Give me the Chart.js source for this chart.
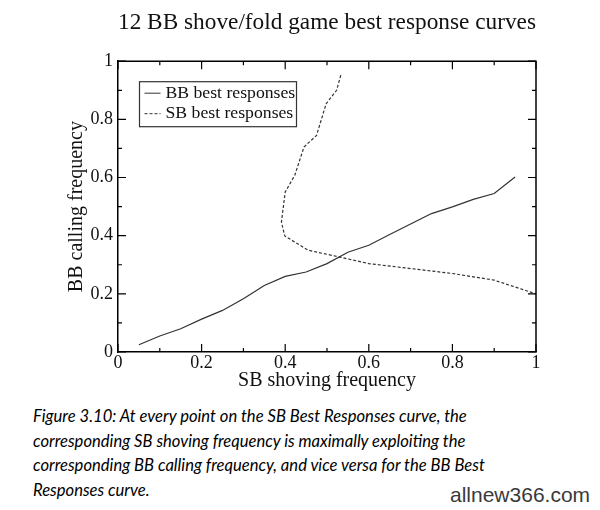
<!DOCTYPE html>
<html>
<head>
<meta charset="utf-8">
<script src="https://cdn.jsdelivr.net/npm/chart.js@4.4.1/dist/chart.umd.min.js"></script>
<style>
  html, body { margin: 0; padding: 0; background: #fff; }
  body { width: 600px; height: 510px; position: relative; overflow: hidden; }
  #wrap { position: absolute; left: 0; top: 0; width: 600px; height: 400px; }
  #caption {
    position: absolute; left: 33px; top: 404px; width: 560px;
    font-family: Lato, "Open Sans", sans-serif; font-style: italic;
    font-size: 16.6px; line-height: 24.5px; color: #000;
  }
  #mark {
    position: absolute; left: 450px; top: 483px;
    font-family: "Liberation Sans", Arial, sans-serif; font-size: 21px; color: #3a3a3a;
  }
</style>
</head>
<body>
<div id="wrap"><canvas id="chart"></canvas></div>
<div id="caption">Figure 3.10: At every point on the SB Best Responses curve, the<br>corresponding SB shoving frequency is maximally exploiting the<br>corresponding BB calling frequency, and vice versa for the BB Best<br>Responses curve.</div>
<div id="mark">allnew366.com</div>
<script>
// BB best responses (solid)
const bbX = [0.05, 0.10, 0.15, 0.20, 0.25, 0.30, 0.35, 0.40, 0.45, 0.50, 0.55, 0.60, 0.65, 0.70, 0.75, 0.80, 0.85, 0.90, 0.95];
const bbY = [0.025, 0.055, 0.080, 0.113, 0.143, 0.183, 0.229, 0.260, 0.275, 0.304, 0.343, 0.367, 0.404, 0.440, 0.476, 0.499, 0.525, 0.545, 0.602];

// SB best responses (dashed)
const sbX = [0.533, 0.523, 0.498, 0.475, 0.445, 0.423, 0.400, 0.391, 0.399, 0.455, 0.535, 0.600, 0.700, 0.800, 0.900, 1.000];
const sbY = [0.952, 0.900, 0.854, 0.745, 0.705, 0.608, 0.550, 0.447, 0.399, 0.350, 0.325, 0.304, 0.287, 0.270, 0.247, 0.200];

const xTickLabels = ['0', '0.2', '0.4', '0.6', '0.8', '1'];
const yTickLabels = ['0', '0.2', '0.4', '0.6', '0.8', '1'];
const seriesNames = ['BB best responses', 'SB best responses'];

const serif = "'Liberation Serif', 'Times New Roman', serif";
const ink = '#111';
const lineColor = '#333';

const toPoints = (xs, ys) => xs.map((x, i) => ({ x: x, y: ys[i] }));

const tickLabel = (labels) => (v) => {
    const i = Math.round(v * 10);
    return i % 2 === 0 ? labels[i / 2] : '';
};

// inward tick marks on all four sides plus the top/right frame
const frameTicks = {
    id: 'frameTicks',
    afterDatasetsDraw(chart) {
        const { ctx, chartArea: a, scales: { x, y } } = chart;
        ctx.save();
        ctx.strokeStyle = '#000';
        ctx.lineWidth = 1.5;
        ctx.beginPath();
        ctx.moveTo(a.left, a.top);
        ctx.lineTo(a.right, a.top);
        ctx.lineTo(a.right, a.bottom);
        ctx.stroke();
        ctx.lineWidth = 1.2;
        ctx.beginPath();
        x.ticks.forEach(t => {
            const px = x.getPixelForValue(t.value);
            const len = Math.round(t.value * 10) % 2 === 0 ? 8 : 4;
            ctx.moveTo(px, a.bottom);
            ctx.lineTo(px, a.bottom - len);
            ctx.moveTo(px, a.top);
            ctx.lineTo(px, a.top + len);
        });
        y.ticks.forEach(t => {
            const py = y.getPixelForValue(t.value);
            const len = Math.round(t.value * 10) % 2 === 0 ? 8 : 4;
            ctx.moveTo(a.left, py);
            ctx.lineTo(a.left + len, py);
            ctx.moveTo(a.right, py);
            ctx.lineTo(a.right - len, py);
        });
        ctx.stroke();
        ctx.restore();
    }
};

// boxed legend inside the plot, top left
const boxLegend = {
    id: 'boxLegend',
    afterDraw(chart) {
        const { ctx, chartArea: a } = chart;
        const left = a.left + 21.5, top = a.top + 20.5;
        ctx.save();
        ctx.strokeStyle = '#333';
        ctx.lineWidth = 1.2;
        ctx.strokeRect(left, top, 157, 45);
        ctx.font = '17.7px ' + serif;
        ctx.fillStyle = ink;
        ctx.textBaseline = 'middle';
        chart.data.datasets.forEach((ds, i) => {
            const cy = top + 11.5 + i * 20.5;
            ctx.strokeStyle = lineColor;
            ctx.lineWidth = 1;
            ctx.setLineDash(ds.borderDash || []);
            ctx.beginPath();
            ctx.moveTo(left + 5, cy);
            ctx.lineTo(left + 21, cy);
            ctx.stroke();
            ctx.setLineDash([]);
            ctx.fillText(ds.label, left + 26, cy);
        });
        ctx.restore();
    }
};

new Chart(document.getElementById('chart'), {
    type: 'scatter',
    data: {
        datasets: [{
            label: seriesNames[0],
            data: toPoints(bbX, bbY),
            showLine: true,
            borderColor: lineColor,
            borderWidth: 1.2,
            pointRadius: 0,
            tension: 0
        }, {
            label: seriesNames[1],
            data: toPoints(sbX, sbY),
            showLine: true,
            borderColor: lineColor,
            borderWidth: 1.2,
            borderDash: [3, 2],
            pointRadius: 0,
            tension: 0
        }]
    },
    options: {
        responsive: true,
        maintainAspectRatio: false,
        animation: false,
        layout: { padding: { left: 58, right: 64, top: 0, bottom: 0 } },
        scales: {
            x: {
                type: 'linear',
                min: 0,
                max: 1,
                grid: { display: false, drawTicks: false },
                border: { display: true, color: '#000', width: 1.5 },
                ticks: {
                    stepSize: 0.1,
                    autoSkip: false,
                    maxRotation: 0,
                    padding: 0,
                    color: ink,
                    font: { family: serif, size: 18 },
                    callback: tickLabel(xTickLabels)
                },
                title: {
                    display: true,
                    text: 'SB shoving frequency',
                    color: ink,
                    font: { family: serif, size: 20 },
                    padding: { top: 0, bottom: 7 }
                },
                afterFit: (s) => { s.height = 48; }
            },
            y: {
                type: 'linear',
                min: 0,
                max: 1,
                grid: { display: false, drawTicks: false },
                border: { display: true, color: '#000', width: 1.5 },
                ticks: {
                    stepSize: 0.1,
                    autoSkip: false,
                    padding: 5,
                    color: ink,
                    font: { family: serif, size: 18 },
                    callback: tickLabel(yTickLabels)
                },
                title: {
                    display: true,
                    text: 'BB calling frequency',
                    color: ink,
                    font: { family: serif, size: 20 },
                    padding: { top: 7, bottom: 0 }
                },
                afterFit: (s) => { s.width = 60; }
            }
        },
        plugins: {
            legend: { display: false },
            tooltip: { enabled: false },
            title: {
                display: true,
                fullSize: false,
                text: '12 BB shove/fold game best response curves',
                color: ink,
                font: { family: serif, size: 23.5, weight: 'normal' },
                padding: { top: 9, bottom: 24 }
            }
        }
    },
    plugins: [frameTicks, boxLegend]
});
</script>
</body>
</html>
